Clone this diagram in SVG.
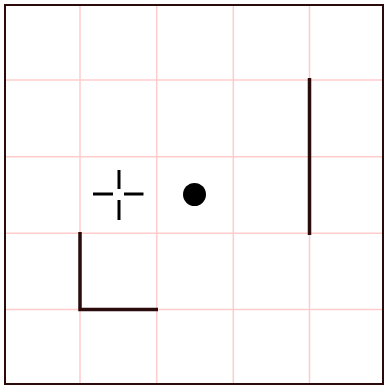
<svg xmlns="http://www.w3.org/2000/svg" width="384" height="386" viewBox="0 0 384 386">
<style>
.grid{stroke:#ffcccc;stroke-width:1.5;fill:none}
.ink{stroke:#2a0a0a;stroke-width:3.5;fill:none;stroke-linecap:butt}
.cross{stroke:#000;stroke-width:3;fill:none}
</style>
<rect x="0" y="0" width="384" height="386" fill="#fff"/>
<g id="grid" class="grid">
<line x1="80" y1="5" x2="80" y2="384"/>
<line x1="156.7" y1="5" x2="156.7" y2="384"/>
<line x1="233.3" y1="5" x2="233.3" y2="384"/>
<line x1="309.5" y1="5" x2="309.5" y2="384"/>
<line x1="5" y1="80" x2="383" y2="80"/>
<line x1="5" y1="156.7" x2="383" y2="156.7"/>
<line x1="5" y1="233.3" x2="383" y2="233.3"/>
<line x1="5" y1="309.5" x2="383" y2="309.5"/>
</g>
<rect id="frame" x="5" y="5" width="378" height="379" fill="none" stroke="#2a0a0a" stroke-width="2"/>
<g id="crosshair" class="cross">
<line x1="93" y1="194" x2="113" y2="194"/>
<line x1="124" y1="194" x2="143.5" y2="194"/>
<line x1="119" y1="170" x2="119" y2="189"/>
<line x1="119" y1="200" x2="119" y2="220"/>
</g>
<circle id="dot" cx="194.5" cy="194.5" r="11.5" fill="#000"/>
<g id="connectors">
<polyline class="ink" points="80,232 80,309.5 158,309.5"/>
<line class="ink" x1="309.5" y1="78" x2="309.5" y2="235"/>
</g>
</svg>
